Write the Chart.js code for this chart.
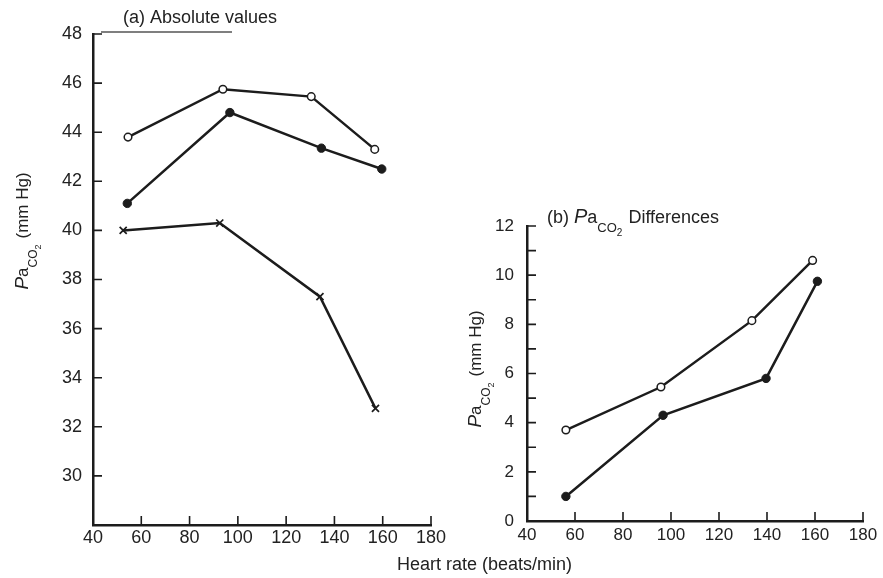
<!DOCTYPE html>
<html>
<head>
<meta charset="utf-8">
<script src="https://cdn.jsdelivr.net/npm/chart.js@4.4.1/dist/chart.umd.min.js"></script>
<style>
  html, body { margin: 0; padding: 0; background: #fff; }
  #wrap { position: relative; width: 883px; height: 578px; overflow: hidden; background: #fff; }
  canvas { position: absolute; top: 0; }
  #xt { position: absolute; left: 397px; top: 554px; font: 18px "Liberation Sans", Arial, sans-serif; color: #222; white-space: nowrap; }
</style>
</head>
<body>
<div id="wrap">
  <canvas id="ca" width="450" height="578" style="left:0"></canvas>
  <canvas id="cb" width="433" height="578" style="left:450px"></canvas>
  <div id="xt">Heart rate (beats/min)</div>
</div>
<script>
// ---------- data ----------
// (a) Absolute values
const heartA_open   = [54.5, 93.8, 130.4, 156.7];
const paco2A_open   = [43.8, 45.75, 45.45, 43.3];
const heartA_filled = [54.2, 96.7, 134.6, 159.6];
const paco2A_filled = [41.1, 44.8, 43.35, 42.5];
const heartA_cross  = [52.5, 92.5, 134.0, 157.0];
const paco2A_cross  = [40.0, 40.3, 37.3, 32.75];
// (b) PaCO2 differences
const heartB_open   = [56.2, 95.8, 133.7, 159.0];
const diffB_open    = [3.7, 5.45, 8.15, 10.6];
const heartB_filled = [56.2, 96.7, 139.6, 161.0];
const diffB_filled  = [1.0, 4.3, 5.8, 9.75];
// axis ticks
const xTicks  = [40, 60, 80, 100, 120, 140, 160, 180];
const yTicksA = [30, 32, 34, 36, 38, 40, 42, 44, 46, 48];
const yTicksB = [0, 2, 4, 6, 8, 10, 12];

const INK = '#1c1c1c';
const FONT = '"Liberation Sans", Arial, sans-serif';

function pts(xs, ys) { return xs.map((x, i) => ({ x: x, y: ys[i] })); }

function ds(xs, ys, kind) {
  const base = { data: pts(xs, ys), borderColor: INK, borderWidth: 2.5, tension: 0, fill: false };
  if (kind === 'open') return Object.assign(base, { pointStyle: 'circle', pointRadius: 3.8, pointBorderWidth: 1.5, pointBackgroundColor: '#fff', pointBorderColor: INK });
  if (kind === 'filled') return Object.assign(base, { pointStyle: 'circle', pointRadius: 4.2, pointBorderWidth: 1, pointBackgroundColor: INK, pointBorderColor: INK });
  return Object.assign(base, { pointStyle: 'crossRot', pointRadius: 5, pointBorderWidth: 1.7, pointBackgroundColor: INK, pointBorderColor: INK });
}

function drawRich(ctx, parts, x, y, rot, align) {
  ctx.save();
  ctx.translate(x, y);
  ctx.rotate(rot);
  ctx.fillStyle = '#222';
  ctx.textBaseline = 'alphabetic';
  ctx.textAlign = 'left';
  let w = 0;
  parts.forEach(p => { ctx.font = p.f; w += ctx.measureText(p.t).width + (p.gap || 0); });
  let cx = align === 'center' ? -w / 2 : 0;
  parts.forEach(p => { ctx.font = p.f; ctx.fillText(p.t, cx, p.dy || 0); cx += ctx.measureText(p.t).width + (p.gap || 0); });
  ctx.restore();
}

function paco2Parts(size, tail) {
  const parts = [
    { t: 'P', f: 'italic ' + (size + 2) + 'px ' + FONT },
    { t: 'a', f: size + 'px ' + FONT },
    { t: 'CO', f: (size - 5) + 'px ' + FONT, dy: 9 },
    { t: '2', f: (size - 8) + 'px ' + FONT, dy: 13, gap: 6 }
  ];
  return parts.concat(tail);
}

function inwardTicks(opts) {
  return {
    id: 'inwardTicks',
    afterDraw(chart) {
      const ctx = chart.ctx, a = chart.chartArea;
      const xs = chart.scales.x, ys = chart.scales.y;
      ctx.save();
      ctx.strokeStyle = INK;
      ctx.lineWidth = 1.6;
      ctx.beginPath();
      xs.ticks.forEach((t, i) => {
        const px = xs.getPixelForTick(i);
        if (Math.abs(px - a.left) < 2) return;
        ctx.moveTo(px, a.bottom); ctx.lineTo(px, a.bottom - 9);
      });
      ys.ticks.forEach((t, i) => {
        const py = ys.getPixelForTick(i);
        if (Math.abs(py - a.bottom) < 2) return;
        ctx.moveTo(a.left, py); ctx.lineTo(a.left + 9, py);
      });
      ctx.stroke();
      ctx.restore();
      if (opts && opts.after) opts.after(chart);
    }
  };
}

function baseScales(xLabelFont, yLabelFont, yMin, yMax, yStep, yShown, yWidth, yPad, xPad) {
  return {
    x: {
      type: 'linear', min: 40, max: 180,
      afterBuildTicks: s => { s.ticks = xTicks.map(v => ({ value: v })); },
      afterFit: s => { s.height = 30; },
      grid: { display: false, drawTicks: false },
      border: { display: true, color: INK, width: 2.5 },
      ticks: { autoSkip: false, maxRotation: 0, padding: xPad, color: '#222', font: { family: FONT, size: xLabelFont } }
    },
    y: {
      type: 'linear', min: yMin, max: yMax,
      afterBuildTicks: s => {
        const arr = [];
        for (let v = yMin; v <= yMax + 1e-9; v += yStep) arr.push({ value: v });
        s.ticks = arr;
      },
      afterFit: s => { s.width = yWidth; },
      grid: { display: false, drawTicks: false },
      border: { display: true, color: INK, width: 2.5 },
      ticks: {
        autoSkip: false, padding: yPad, color: '#222', font: { family: FONT, size: yLabelFont },
        callback: v => (yShown.indexOf(v) >= 0 ? String(v) : '')
      }
    }
  };
}

// ---------- chart (a) ----------
new Chart(document.getElementById('ca'), {
  type: 'line',
  data: {
    datasets: [
      ds(heartA_open, paco2A_open, 'open'),
      ds(heartA_filled, paco2A_filled, 'filled'),
      ds(heartA_cross, paco2A_cross, 'cross')
    ]
  },
  options: {
    responsive: false, animation: false,
    layout: { padding: { left: 0, right: 19, top: 34, bottom: 23 } },
    plugins: { legend: { display: false }, tooltip: { enabled: false } },
    scales: baseScales(18, 18, 28, 48, 2, yTicksA, 93, 11, 2)
  },
  plugins: [inwardTicks({
    after(chart) {
      const ctx = chart.ctx;
      drawRich(ctx, [{ t: '(a) Absolute values', f: '18px ' + FONT }], 123, 23, 0, 'left');
      ctx.save();
      ctx.strokeStyle = '#555'; ctx.lineWidth = 1.3;
      ctx.beginPath(); ctx.moveTo(101, 32); ctx.lineTo(232, 32); ctx.stroke();
      ctx.restore();
      drawRich(ctx, paco2Parts(17, [{ t: '(mm Hg)', f: '17px ' + FONT }]), 28, 231, -Math.PI / 2, 'center');
    }
  })]
});

// ---------- chart (b) ----------
new Chart(document.getElementById('cb'), {
  type: 'line',
  data: {
    datasets: [
      ds(heartB_open, diffB_open, 'open'),
      ds(heartB_filled, diffB_filled, 'filled')
    ]
  },
  options: {
    responsive: false, animation: false,
    layout: { padding: { left: 0, right: 20, top: 226, bottom: 27 } },
    plugins: { legend: { display: false }, tooltip: { enabled: false } },
    scales: baseScales(17, 17, 0, 12, 1, yTicksB, 77, 13, 4)
  },
  plugins: [inwardTicks({
    after(chart) {
      const ctx = chart.ctx;
      drawRich(ctx, [{ t: '(b) ', f: '18px ' + FONT }].concat(
        paco2Parts(18, [{ t: 'Differences', f: '18px ' + FONT }])
      ), 97, 223, 0, 'left');
      drawRich(ctx, paco2Parts(17, [{ t: '(mm Hg)', f: '17px ' + FONT }]), 31, 369, -Math.PI / 2, 'center');
    }
  })]
});
</script>
</body>
</html>
